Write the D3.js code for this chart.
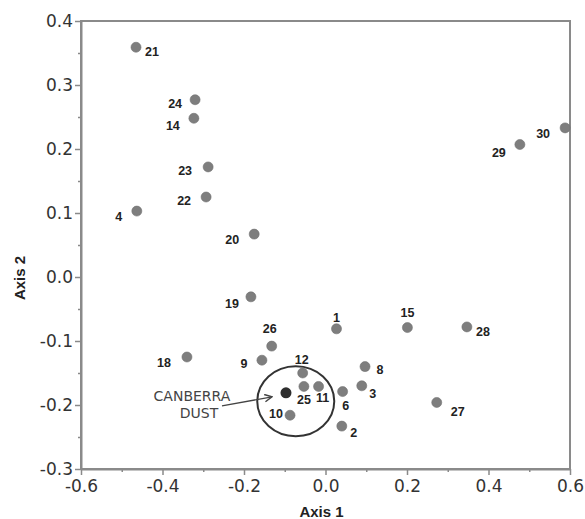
<!DOCTYPE html>
<html>
<head>
<meta charset="utf-8">
<script src="https://cdn.jsdelivr.net/npm/d3@7"></script>
<style>
  html, body { margin: 0; padding: 0; background: #fff; }
  svg { display: block; }
</style>
</head>
<body>
<svg id="chart" width="585" height="519"></svg>
<script>
// ---- data ----
const sampleIds = ["1","2","3","4","6","8","9","10","11","12","14","15","18","19","20","21","22","23","24","25","26","27","28","29","30"];
const axis1Scores = [0.027,0.040,0.089,-0.463,0.042,0.097,-0.156,-0.087,-0.017,-0.056,-0.323,0.201,-0.340,-0.183,-0.175,-0.465,-0.293,-0.288,-0.320,-0.053,-0.132,0.273,0.347,0.477,0.588];
const axis2Scores = [-0.081,-0.233,-0.170,0.103,-0.179,-0.140,-0.130,-0.216,-0.171,-0.150,0.248,-0.079,-0.125,-0.031,0.067,0.359,0.125,0.172,0.277,-0.171,-0.108,-0.196,-0.078,0.207,0.233];
const referenceLabel = ["CANBERRA", "DUST"];
const referenceAxis1 = -0.097;
const referenceAxis2 = -0.181;
const clusterCenter = [-0.073, -0.194];
const clusterRadius = [0.0945, 0.0547];
const xTicks = [-0.6,-0.4,-0.2,0.0,0.2,0.4,0.6];
const yTicks = [-0.3,-0.2,-0.1,0.0,0.1,0.2,0.3,0.4];
const xMinorTicks = [-0.5,-0.3,-0.1,0.1,0.3,0.5];
const yMinorTicks = [-0.25,-0.15,-0.05,0.05,0.15,0.25,0.35];
const xTitle = "Axis 1";
const yTitle = "Axis 2";

// label placement (pixel offsets of each label from its point)
const labelOffsets = {
  "1":[0,-11],"2":[12,7],"3":[11,8],"4":[-18,6],"6":[3,14],"8":[15,3],"9":[-18,4],
  "10":[-14,-1],"11":[4,12],"12":[-1,-13],"14":[-21,8],"15":[0,-15],"18":[-23,6],
  "19":[-19,7],"20":[-22,6],"21":[16,5],"22":[-22,4],"23":[-23,4],"24":[-20,4],
  "25":[0,14],"26":[-2,-17],"27":[21,10],"28":[16,5],"29":[-21,8],"30":[-22,6]
};

// ---- layout ----
const margin = {top: 21, right: 15, bottom: 50, left: 81};
const W = 585, H = 519;
const iw = W - margin.left - margin.right;
const ih = H - margin.top - margin.bottom;

const svg = d3.select("#chart");
const g = svg.append("g").attr("transform", `translate(${margin.left},${margin.top})`);

const x = d3.scaleLinear().domain([-0.6, 0.6]).range([0, iw]);
const y = d3.scaleLinear().domain([-0.3, 0.4]).range([ih, 0]);

const fmt = v => d3.format(".1f")(v).replace("\u2212", "-");
const axisColor = "#8a8a8a";
const tickFont = "'DejaVu Sans', sans-serif";

// frame (top & right)
g.append("rect").attr("x", 0).attr("y", 0).attr("width", iw).attr("height", ih)
  .attr("fill", "none").attr("stroke", axisColor).attr("stroke-width", 2);

// minor ticks
g.append("g").attr("transform", `translate(0,${ih})`)
  .call(d3.axisBottom(x).tickValues(xMinorTicks).tickSize(3).tickFormat(""))
  .call(a => a.select(".domain").remove())
  .call(a => a.selectAll("line").attr("stroke", axisColor).attr("stroke-width", 1.5));
g.append("g")
  .call(d3.axisLeft(y).tickValues(yMinorTicks).tickSize(3).tickFormat(""))
  .call(a => a.select(".domain").remove())
  .call(a => a.selectAll("line").attr("stroke", axisColor).attr("stroke-width", 1.5));

// major axes
const xAxis = g.append("g").attr("transform", `translate(0,${ih})`)
  .call(d3.axisBottom(x).tickValues(xTicks).tickSize(6).tickSizeOuter(0).tickPadding(5).tickFormat(fmt));
const yAxis = g.append("g")
  .call(d3.axisLeft(y).tickValues(yTicks).tickSize(6).tickSizeOuter(0).tickPadding(2).tickFormat(fmt));
[xAxis, yAxis].forEach(a => {
  a.select(".domain").attr("stroke", axisColor).attr("stroke-width", 2);
  a.selectAll(".tick line").attr("stroke", axisColor).attr("stroke-width", 1.5);
  a.selectAll(".tick text").attr("fill", "#333").style("font-family", tickFont).style("font-size", "17px");
});

// axis titles
svg.append("text").attr("x", margin.left + x(0) - 4).attr("y", 517)
  .attr("text-anchor", "middle").style("font-family", "Arial, 'Liberation Sans', sans-serif")
  .style("font-weight", "bold").style("font-size", "15px").attr("fill", "#222").text(xTitle);
svg.append("text").attr("transform", `translate(25,278) rotate(-90)`)
  .attr("text-anchor", "middle").style("font-family", "Arial, 'Liberation Sans', sans-serif")
  .style("font-weight", "bold").style("font-size", "15px").attr("fill", "#222").text(yTitle);

// cluster ellipse
g.append("ellipse")
  .attr("cx", x(clusterCenter[0])).attr("cy", y(clusterCenter[1]))
  .attr("rx", x(clusterCenter[0] + clusterRadius[0]) - x(clusterCenter[0]))
  .attr("ry", y(clusterCenter[1]) - y(clusterCenter[1] + clusterRadius[1]))
  .attr("fill", "none").attr("stroke", "#333").attr("stroke-width", 2);

// points
const pts = sampleIds.map((id, i) => ({id, a1: axis1Scores[i], a2: axis2Scores[i]}));
g.selectAll("circle.pt").data(pts).join("circle").attr("class", "pt")
  .attr("cx", d => x(d.a1)).attr("cy", d => y(d.a2)).attr("r", 5)
  .attr("fill", "#7e7e7e").attr("stroke", "#707070").attr("stroke-width", 0.6);

g.selectAll("text.lbl").data(pts).join("text").attr("class", "lbl")
  .attr("x", d => x(d.a1) + labelOffsets[d.id][0])
  .attr("y", d => y(d.a2) + labelOffsets[d.id][1])
  .attr("text-anchor", "middle").attr("dominant-baseline", "central")
  .style("font-family", "Arial, 'Liberation Sans', sans-serif").style("font-weight", "bold")
  .style("font-size", "12.5px").attr("fill", "#222").text(d => d.id);

// reference sample
const rx = x(referenceAxis1), ry = y(referenceAxis2);
g.append("circle").attr("cx", rx).attr("cy", ry).attr("r", 5.5).attr("fill", "#2e2e2e");

// annotation
const ann = g.append("g").style("font-family", tickFont).style("font-size", "14px").attr("fill", "#444");
ann.append("text").attr("x", rx - 94).attr("y", ry + 8).attr("text-anchor", "middle").text(referenceLabel[0]);
ann.append("text").attr("x", rx - 87).attr("y", ry + 25).attr("text-anchor", "middle").text(referenceLabel[1]);

svg.append("defs").append("marker").attr("id", "arr").attr("viewBox", "0 0 10 10")
  .attr("refX", 9).attr("refY", 5).attr("markerWidth", 7).attr("markerHeight", 7)
  .attr("orient", "auto").append("path").attr("d", "M1,1 L9,5 L1,9")
  .attr("fill", "none").attr("stroke", "#444").attr("stroke-width", 1.6);
g.append("line").attr("x1", rx - 64).attr("y1", ry + 13).attr("x2", rx - 14).attr("y2", ry + 4)
  .attr("stroke", "#444").attr("stroke-width", 1.3).attr("marker-end", "url(#arr)");
</script>
</body>
</html>
